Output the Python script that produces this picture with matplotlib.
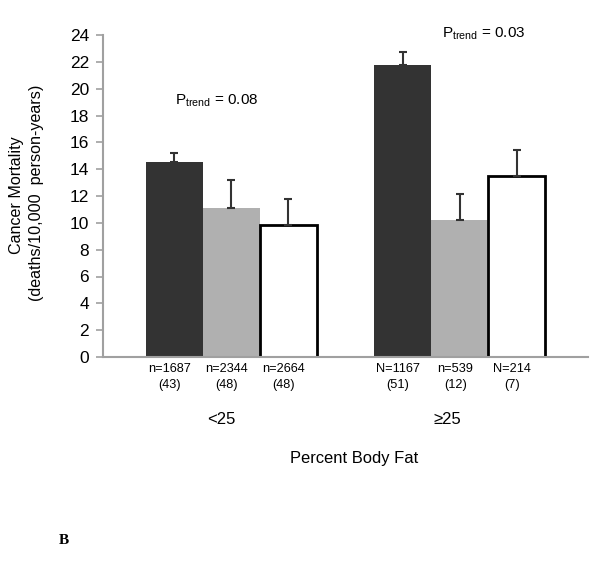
import matplotlib
matplotlib.use("Agg")
import matplotlib.pyplot as plt
import matplotlib.transforms as mtransforms
import numpy as np

plt.rcParams['font.family'] = ['Liberation Sans', 'DejaVu Sans']
plt.rcParams['mathtext.fontset'] = 'custom'
plt.rcParams['mathtext.rm'] = 'Liberation Sans'
plt.rcParams['mathtext.it'] = 'Liberation Sans'

groups = ["<25", "\u226525"]
dark_vals = [14.55, 21.77]
gray_vals = [11.12, 10.20]
white_vals = [9.83, 13.49]
dark_err = [0.63, 0.99]
gray_err = [2.07, 1.94]
white_err = [1.96, 1.94]
n_labels = [["n=1687\n(43)", "n=2344\n(48)", "n=2664\n(48)"],
            ["N=1167\n(51)", "n=539\n(12)", "N=214\n(7)"]]
p_trend = ["0.08", "0.03"]
yticks = list(range(0, 25, 2))

W, H = 600, 570
fig = plt.figure(figsize=(6, 5.7), dpi=100)
ax = fig.add_axes([103 / W, 1 - 357 / H, (588 - 103) / W, (357 - 35) / H])

x = np.arange(len(groups))
w = 0.25
offs = [-w, 0, w]
series = [(dark_vals, dark_err, '#333333', '#333333', 0),
          (gray_vals, gray_err, '#b0b0b0', '#b0b0b0', 0),
          (white_vals, white_err, 'white', 'black', 2.0)]
for (vals, err, fc, ec, lw), o in zip(series, offs):
    ax.bar(x + o, vals, width=w, color=fc, edgecolor=ec, linewidth=lw, zorder=2)
    ax.errorbar(x + o, vals, yerr=[np.zeros(len(vals)), err], fmt='none',
                ecolor='#333333', elinewidth=1.5, capsize=3, capthick=1.5, zorder=3)

ax.set_xlim(-0.561, 1.561)
ax.set_ylim(0, 24)
ax.set_yticks(yticks)
ax.set_yticklabels([str(t) for t in yticks], fontsize=12.5)
ax.set_xticks([])
for s in ['top', 'right']:
    ax.spines[s].set_visible(False)
for s in ['left', 'bottom']:
    ax.spines[s].set_color('#a0a0a0')
    ax.spines[s].set_linewidth(1.5)
ax.tick_params(axis='y', colors='#a0a0a0', length=5, width=1.2, labelcolor='black', pad=5)

trans = mtransforms.blended_transform_factory(ax.transData, fig.transFigure)
for gi in range(len(groups)):
    for bi, o in enumerate(offs):
        fig.text(x[gi] + o - 0.02, 1 - 377 / H, n_labels[gi][bi], transform=trans,
                 ha='center', va='center', fontsize=9.2, linespacing=1.4)

fig.text(221 / W, 1 - 419 / H, groups[0], ha='center', va='center', fontsize=12)
fig.text(447 / W, 1 - 419 / H, groups[1], ha='center', va='center', fontsize=12)
fig.text(354 / W, 1 - 458 / H, "Percent Body Fat", ha='center', va='center', fontsize=11.9)

fig.text(175 / W, 1 - 101 / H, r"P$_{\mathrm{trend}}$ = " + p_trend[0], ha='left', va='center', fontsize=11)
fig.text(442 / W, 1 - 34 / H, r"P$_{\mathrm{trend}}$ = " + p_trend[1], ha='left', va='center', fontsize=11)

fig.text(17 / W, 1 - 195 / H, "Cancer Mortality", rotation=90, ha='center', va='center', fontsize=11.6)
fig.text(37 / W, 1 - 193 / H, "(deaths/10,000  person-years)", rotation=90, ha='center', va='center', fontsize=11.6)

fig.text(64 / W, 1 - 541 / H, "B", fontfamily='Liberation Serif', fontweight='bold',
         ha='center', va='center', fontsize=11)

fig.savefig("out.png", dpi=100)
